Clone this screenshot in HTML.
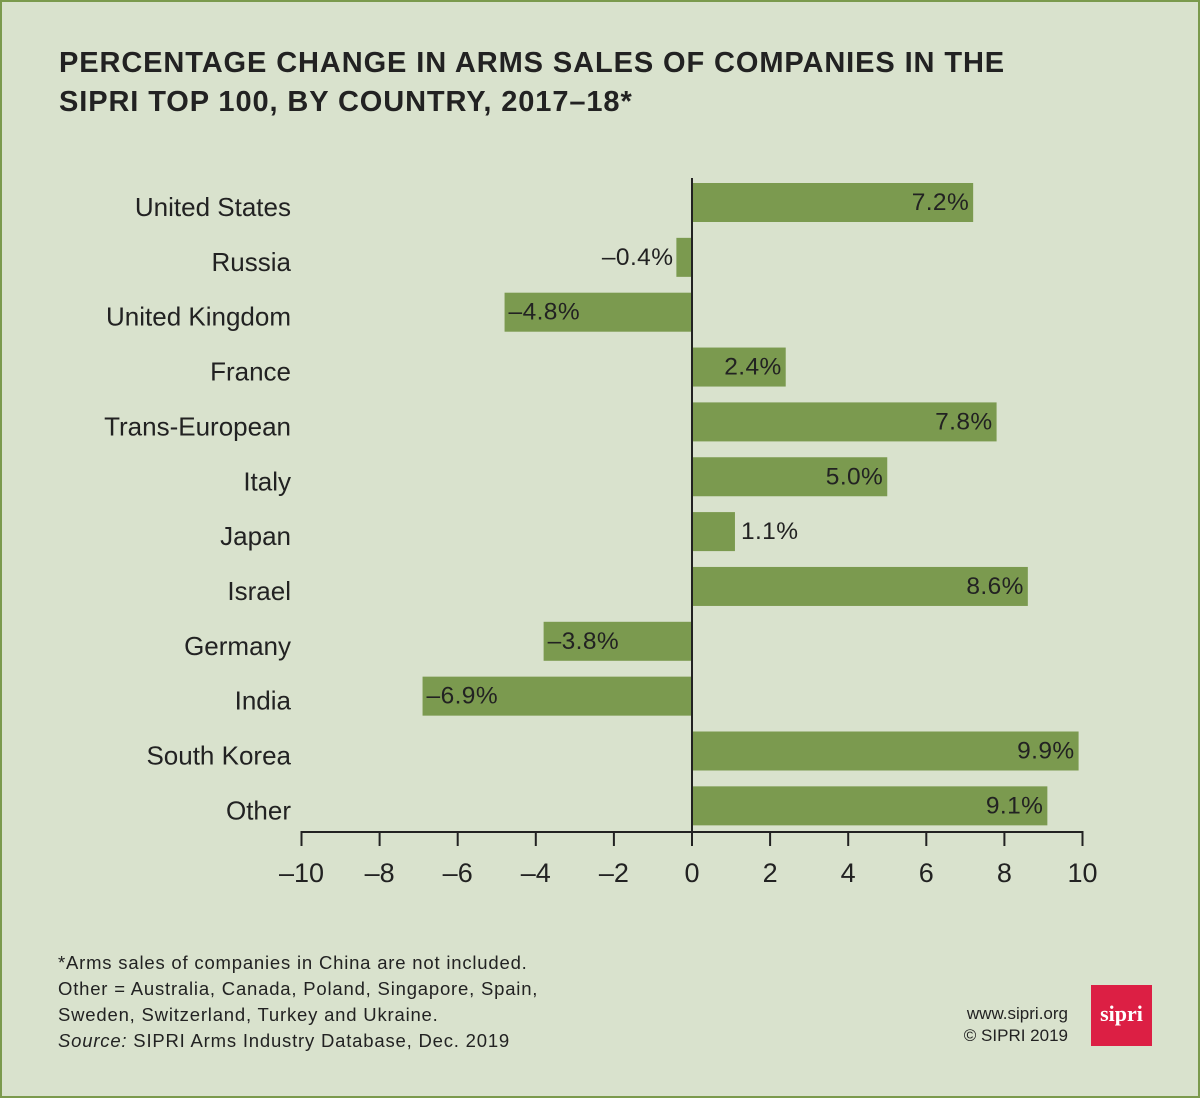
<!DOCTYPE html>
<html><head><meta charset="utf-8"><style>
body{margin:0;width:1200px;height:1098px;overflow:hidden;}
#wrap{position:relative;width:1196px;height:1094px;background:#d9e2cd;border:2px solid #7b9a4d;font-family:"Liberation Sans",sans-serif;color:#222;}
.t{position:absolute;white-space:nowrap;}
</style></head><body>
<div id="wrap">
<div class="t" style="left:57px;top:42px;font-size:29px;font-weight:bold;line-height:39px;letter-spacing:0.9px;">PERCENTAGE CHANGE IN ARMS SALES OF COMPANIES IN THE<br>SIPRI TOP 100, BY COUNTRY, 2017–18*</div>
<svg id="chart" width="1200" height="940" style="position:absolute;left:-2px;top:-2px;"></svg>
<div class="t" style="left:56px;top:948px;font-size:18.5px;line-height:26px;letter-spacing:0.8px;">*Arms sales of companies in China are not included.<br>Other = Australia, Canada, Poland, Singapore, Spain,<br>Sweden, Switzerland, Turkey and Ukraine.<br><i>Source:</i> SIPRI Arms Industry Database, Dec. 2019</div>
<div class="t" style="right:130px;top:1001px;font-size:17px;line-height:22px;text-align:right;">www.sipri.org<br>© SIPRI 2019</div>
<div style="position:absolute;left:1089px;top:983px;width:61px;height:61px;background:#dc1f44;color:#fff;font-family:'Liberation Serif',serif;font-weight:bold;font-size:22px;text-align:center;line-height:58px;">sipri</div>
</div>
<script>
const categories=["United States","Russia","United Kingdom","France","Trans-European","Italy","Japan","Israel","Germany","India","South Korea","Other"];
const values=[7.2,-0.4,-4.8,2.4,7.8,5.0,1.1,8.6,-3.8,-6.9,9.9,9.1];
const labels=["7.2%","–0.4%","–4.8%","2.4%","7.8%","5.0%","1.1%","8.6%","–3.8%","–6.9%","9.9%","9.1%"];
const ticks=[-10,-8,-6,-4,-2,0,2,4,6,8,10];
const tickLabels=["–10","–8","–6","–4","–2","0","2","4","6","8","10"];
const svg=document.getElementById('chart');
const NS='http://www.w3.org/2000/svg';
const x=v=>692+v*39.05;
const rowY=i=>183+i*54.85;
const bh=39;
function mk(t,a){const e=document.createElementNS(NS,t);for(const k in a)e.setAttribute(k,a[k]);svg.appendChild(e);return e;}
categories.forEach((c,i)=>{
 const v=values[i];const y=rowY(i);
 const r=mk('rect',{x:Math.min(x(0),x(v)),y:y,width:Math.abs(x(v)-x(0)),height:bh,fill:'#7b9a4f'});
 
 
 const l=mk('text',{x:291,y:y+33,'text-anchor':'end','font-size':26,'font-family':'Liberation Sans, sans-serif',fill:'#222'});
 l.textContent=c;
 
 
 const w=Math.abs(x(v)-x(0));let tx,anc;
 if(w<60){ if(v>=0){tx=x(v)+6;anc='start';}else{tx=x(v)-3;anc='end';} }
 else if(v>=0){tx=x(v)-4;anc='end';}else{tx=x(v)+4;anc='start';}
 const vl=mk('text',{x:tx,y:y+27,'text-anchor':anc,'font-size':24.5,'letter-spacing':0.4,'font-family':'Liberation Sans, sans-serif',fill:'#222'});
 vl.textContent=labels[i];
 
 
});
const zl=mk('line',{x1:x(0),x2:x(0),y1:178,y2:832,stroke:'#222','stroke-width':2});


const ax=mk('line',{x1:x(-10)-1,x2:x(10)+1,y1:832,y2:832,stroke:'#222','stroke-width':2});


ticks.forEach((t,i)=>{
 const tk=mk('line',{x1:x(t),x2:x(t),y1:832,y2:846,stroke:'#222','stroke-width':2});
 
 
 const tl=mk('text',{x:x(t),y:882,'text-anchor':'middle','font-size':27,'font-family':'Liberation Sans, sans-serif',fill:'#222'});
 tl.textContent=tickLabels[i];
 
 
});
</script>
</body></html>
